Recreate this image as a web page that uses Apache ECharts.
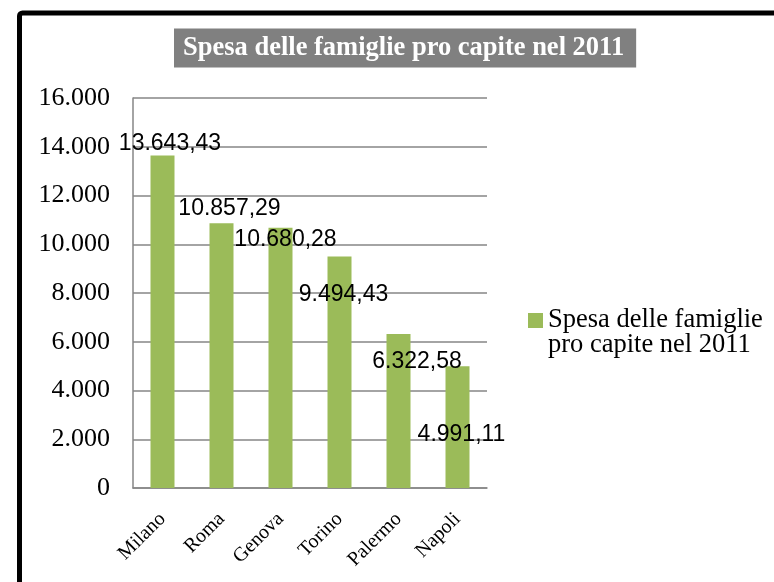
<!DOCTYPE html>
<html>
<head>
<meta charset="utf-8">
<script src="https://cdn.jsdelivr.net/npm/echarts@6/dist/echarts.min.js"></script>
<style>
 html, body { margin: 0; padding: 0; background: #fff; }
 #chart { width: 774px; height: 582px; }
</style>
</head>
<body>
<div id="chart"></div>
<script>
// data
var cities = ['Milano', 'Roma', 'Genova', 'Torino', 'Palermo', 'Napoli'];
var spesa = [13643.43, 10857.29, 10680.28, 9494.43, 6322.58, 4991.11];
var seriesName = 'Spesa delle famiglie pro capite nel 2011';

// where the excel labels ended up, relative to the bar top
var labelShift = [[7.5, -0.5], [8, -3.4], [5, 23.3], [4, 49.9], [18.5, 39.1], [4, 79.7]];

function itNumber(v, dec) {
 var parts = v.toFixed(dec).split('.');
 var intPart = parts[0].replace(/\B(?=(\d{3})+(?!\d))/g, '.');
 return parts.length > 1 ? intPart + ',' + parts[1] : intPart;
}

window.onload = function () {
 var myChart = echarts.init(document.getElementById('chart'));

 var option = {
  animation: false,
  title: {
   text: seriesName,
   left: 174,
   top: 29,
   padding: [6, 12, 6, 9],
   backgroundColor: '#808080',
   textStyle: {
    color: '#fff',
    fontFamily: 'Liberation Serif',
    fontWeight: 'bold',
    fontSize: 26.5,
    lineHeight: 26
   }
  },
  legend: {
   left: 528,
   top: 307,
   padding: 0,
   icon: 'rect',
   itemWidth: 15,
   itemHeight: 15,
   selectedMode: false,
   formatter: function () { return 'Spesa delle famiglie'; },
   textStyle: { fontFamily: 'Liberation Serif', fontSize: 26.5, color: '#000' },
   data: [seriesName]
  },
  graphic: [{
   type: 'rect',
   z: -1,
   shape: { x: 19.5, y: 13, width: 800, height: 620, r: 3 },
   style: { fill: null, stroke: '#000', lineWidth: 5 }
  }, {
   type: 'text',
   left: 548,
   top: 332,
   style: {
    text: 'pro capite nel 2011',
    font: '26.5px "Liberation Serif"',
    fill: '#000'
   }
  }],
  grid: { left: 133, right: 287, top: 98, bottom: 94, containLabel: false },
  xAxis: {
   type: 'category',
   data: cities,
   axisTick: { show: false },
   axisLine: { lineStyle: { color: '#868686', width: 1.5 } },
   axisLabel: {
    rotate: 45,
    margin: 28,
    color: '#000',
    fontFamily: 'Liberation Serif',
    fontSize: 20
   }
  },
  yAxis: {
   type: 'value',
   min: 0,
   max: 16000,
   interval: 2000,
   axisLine: { show: true, lineStyle: { color: '#868686', width: 1.5 } },
   axisTick: { show: false },
   splitLine: { lineStyle: { color: '#868686', width: 1.5 } },
   axisLabel: {
    margin: 23,
    color: '#000',
    fontFamily: 'Liberation Serif',
    fontSize: 26,
    formatter: function (v) { return itNumber(v, 0); }
   }
  },
  series: [{
   name: seriesName,
   type: 'bar',
   barWidth: 24,
   itemStyle: { color: '#9BBB59' },
   data: spesa.map(function (v, i) {
    return {
     value: v,
     label: { offset: labelShift[i] }
    };
   }),
   label: {
    show: true,
    position: 'top',
    distance: 0,
    color: '#000',
    fontFamily: 'Liberation Sans',
    fontSize: 23,
    formatter: function (p) { return itNumber(p.value, 2); }
   }
  }]
 };

 myChart.setOption(option);
};
</script>
</body>
</html>
